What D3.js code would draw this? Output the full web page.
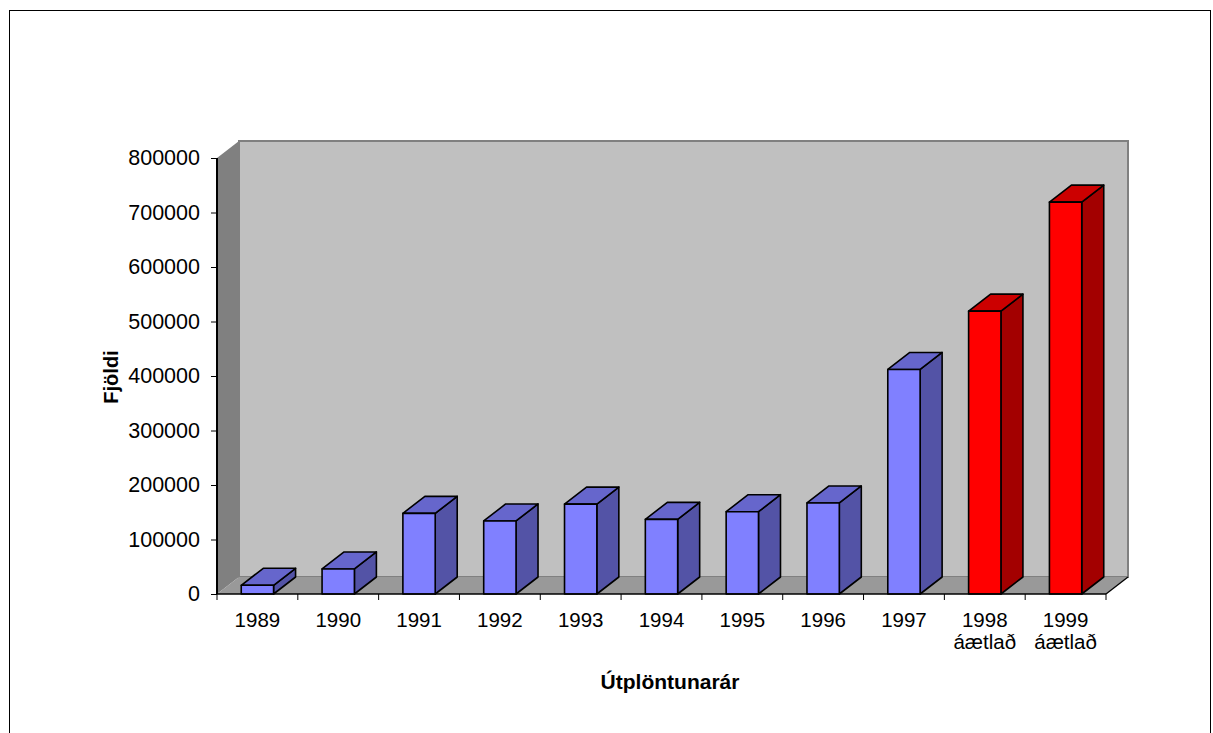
<!DOCTYPE html>
<html><head><meta charset="utf-8">
<script src="https://cdn.jsdelivr.net/npm/d3@7"></script>
<style>body{margin:0;background:#fff}svg{display:block;font-family:Arial,"Liberation Sans",sans-serif}</style>
</head><body><svg id="c" width="1213" height="733"></svg>
<script>
const years = ["1989","1990","1991","1992","1993","1994","1995","1996","1997","1998","1999"];
const subLabels = ["","","","","","","","","","áætlað","áætlað"];
const values = [16000,46000,148000,134000,165000,137000,151000,167000,412000,519000,719000];
const estimated = [false,false,false,false,false,false,false,false,false,true,true];
const yTicks = [0,100000,200000,300000,400000,500000,600000,700000,800000];

const svg = d3.select("#c");
const L = 217, R = 1106, B = 594, T = 158;
const dx = 22, dy = -17;
const x = d3.scaleBand().domain(years).range([L, R]).padding(0);
const y = d3.scaleLinear().domain([0, 800000]).range([B, T]);

// outer border
svg.append("rect").attr("x",9.5).attr("y",10.5).attr("width",1201).attr("height",730)
  .attr("fill","none").attr("stroke","#000").attr("stroke-width",1);

// back wall
svg.append("polygon").attr("points",[[L+dx,T+dy],[R+dx,T+dy],[R+dx,B+dy],[L+dx,B+dy]].join(" "))
  .attr("fill","#c0c0c0").attr("stroke","#808080").attr("stroke-width",2);
// left wall
svg.append("polygon").attr("points",[[L,T],[L+dx,T+dy],[L+dx,B+dy],[L,B]].join(" "))
  .attr("fill","#808080");
// floor
svg.append("polygon").attr("points",[[L,B],[L+dx,B+dy],[R+dx,B+dy],[R,B]].join(" "))
  .attr("fill","#999999");
svg.append("line").attr("x1",R).attr("y1",B).attr("x2",R+dx).attr("y2",B+dy)
  .attr("stroke","#000").attr("stroke-width",1.3);

// bars
const bw = x.bandwidth();
const colors = {
  blue: {front:"#8080ff", top:"#6666cc", side:"#5353a6"},
  red: {front:"#ff0000", top:"#cc0000", side:"#a30000"}
};
years.forEach((yr,i)=>{
  const c = estimated[i] ? colors.red : colors.blue;
  const x0 = x(yr) + bw*0.3, x1 = x(yr) + bw*0.7;
  const yt = y(values[i]), yb = y(0);
  const g = svg.append("g").attr("stroke","#000").attr("stroke-width",1.6).attr("stroke-linejoin","round");
  g.append("polygon").attr("points",[[x1,yt],[x1+dx,yt+dy],[x1+dx,yb+dy],[x1,yb]].join(" ")).attr("fill",c.side);
  g.append("polygon").attr("points",[[x0,yt],[x0+dx,yt+dy],[x1+dx,yt+dy],[x1,yt]].join(" ")).attr("fill",c.top);
  g.append("rect").attr("x",x0).attr("y",yt).attr("width",x1-x0).attr("height",yb-yt).attr("fill",c.front);
});

// y axis
const yAxis = d3.axisLeft(y).tickValues(yTicks).tickFormat(d3.format("d")).tickSize(6).tickPadding(11);
const ya = svg.append("g").attr("transform",`translate(${L},0)`).call(yAxis);
ya.select(".domain").attr("stroke","#000").attr("stroke-width",2).attr("d",`M0,${T}V${B}`);
ya.selectAll(".tick line").attr("stroke","#000").attr("stroke-width",1);
ya.selectAll("text").attr("font-size",21.5).attr("fill","#000").attr("font-family","Arial, 'Liberation Sans', sans-serif");

// x axis
const xa = svg.append("g").attr("transform",`translate(0,${B})`);
xa.append("line").attr("x1",L).attr("x2",R).attr("stroke","#000").attr("stroke-width",1.5);
const bounds = years.map(d=>x(d)).concat([R]);
xa.selectAll("line.tk").data(bounds).enter().append("line").attr("class","tk")
  .attr("x1",d=>d).attr("x2",d=>d).attr("y1",0).attr("y2",6).attr("stroke","#000");
const lbl = xa.selectAll("text.xl").data(years).enter().append("text").attr("class","xl")
  .attr("x",d=>x(d)+bw/2).attr("y",33).attr("text-anchor","middle").attr("font-size",20.5).attr("fill","#000");
lbl.append("tspan").attr("x",d=>x(d)+bw/2).text(d=>d);
lbl.filter((d,i)=>subLabels[i]).append("tspan").attr("x",d=>x(d)+bw/2).attr("dy",22)
  .text(d=>subLabels[years.indexOf(d)]);

// titles
svg.append("text").attr("x",670).attr("y",689).attr("text-anchor","middle")
  .attr("font-size",21).attr("font-weight","bold").text("Útplöntunarár");
svg.append("text").attr("transform","translate(118,377) rotate(-90)").attr("text-anchor","middle")
  .attr("font-size",20).attr("font-weight","bold").text("Fjöldi");
</script></body></html>
